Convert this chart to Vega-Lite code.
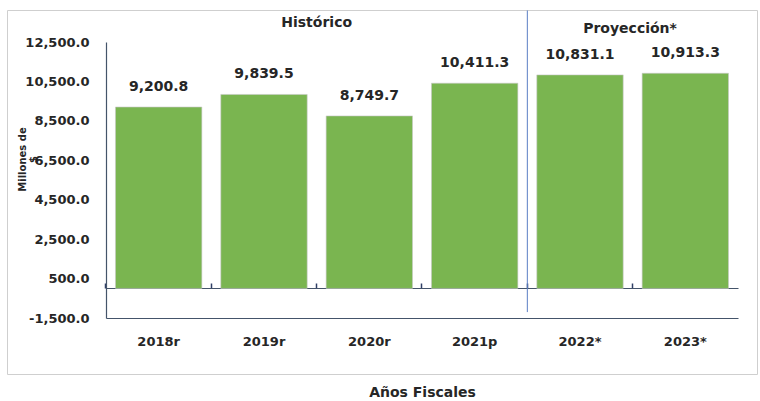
{
  "$schema": "https://vega.github.io/schema/vega-lite/v6.json",
  "width": 750,
  "height": 364,
  "autosize": {"type": "none"},
  "padding": {"left": 7, "top": 10, "right": 3, "bottom": 27},
  "config": {
    "font": "DejaVu Sans",
    "view": {"stroke": "#cfcfcf", "strokeWidth": 1},
    "locale": {
      "number": {"decimal": ".", "thousands": ",", "grouping": [3], "currency": ["$", ""], "minus": "-"}
    }
  },
  "data": {
    "values": [
      {"anio": "2018r", "valor": 9200.8},
      {"anio": "2019r", "valor": 9839.5},
      {"anio": "2020r", "valor": 8749.7},
      {"anio": "2021p", "valor": 10411.3},
      {"anio": "2022*", "valor": 10831.1},
      {"anio": "2023*", "valor": 10913.3}
    ]
  },
  "resolve": {"axis": {"x": "independent"}},
  "layer": [
    {
      "mark": {"type": "bar", "color": "#7AB550", "stroke": "#c8c8c8", "strokeWidth": 0.6},
      "encoding": {
        "x": {
          "field": "anio",
          "type": "nominal",
          "sort": null,
          "scale": {
            "domain": ["2018r", "2019r", "2020r", "2021p", "2022*", "2023*"],
            "range": [99, 731],
            "paddingInner": 0.18,
            "paddingOuter": 0.09
          },
          "axis": {
            "orient": "bottom",
            "offset": -56,
            "ticks": false,
            "grid": false,
            "domainColor": "#44546a",
            "domainWidth": 1.2,
            "labelAngle": 0,
            "labelFont": "DejaVu Sans",
            "labelFontSize": 13,
            "labelFontWeight": "bold",
            "labelColor": "#262626",
            "labelPadding": 17,
            "title": "Años Fiscales",
            "titleFont": "DejaVu Sans",
            "titleFontSize": 14,
            "titleFontWeight": "bold",
            "titleColor": "#262626",
            "titleBaseline": "middle",
            "titleY": 74
          }
        },
        "y": {
          "field": "valor",
          "type": "quantitative",
          "scale": {"domain": [-1500, 12500], "range": [308, 32], "nice": false, "zero": false},
          "axis": {
            "orient": "left",
            "offset": -99,
            "values": [-1500, 500, 2500, 4500, 6500, 8500, 10500, 12500],
            "format": ",.1f",
            "ticks": false,
            "grid": false,
            "domainColor": "#44546a",
            "domainWidth": 1.2,
            "labelFont": "DejaVu Sans",
            "labelFontSize": 13,
            "labelFontWeight": "bold",
            "labelColor": "#262626",
            "labelPadding": 17,
            "title": ["Millones de", "$"],
            "titleFont": "DejaVu Sans",
            "titleFontSize": 10,
            "titleFontWeight": "bold",
            "titleColor": "#262626",
            "titleAngle": -90,
            "titleAlign": "center",
            "titleBaseline": "top",
            "titleLineHeight": 11,
            "titleX": -89,
            "titleY": 149
          }
        },
        "y2": {"datum": 0}
      }
    },
    {
      "mark": {"type": "text", "font": "DejaVu Sans", "fontSize": 14, "fontWeight": "bold", "color": "#262626", "baseline": "middle", "dy": -20},
      "encoding": {
        "x": {
          "field": "anio",
          "type": "nominal",
          "sort": null,
          "axis": {
            "orient": "bottom",
            "offset": -86,
            "labels": false,
            "title": null,
            "grid": false,
            "domainColor": "#44546a",
            "domainWidth": 1.2,
            "ticks": true,
            "tickColor": "#2f3f66",
            "tickWidth": 1.5,
            "tickSize": -5,
            "bandPosition": -0.1098
          }
        },
        "y": {"field": "valor", "type": "quantitative"},
        "text": {"field": "valor", "type": "quantitative", "format": ",.1f"}
      }
    },
    {
      "data": {"values": [{"separador": "Histórico | Proyección"}]},
      "mark": {"type": "rule", "color": "#5b7fc4", "strokeWidth": 1},
      "encoding": {
        "x": {"datum": "2022*", "bandPosition": -0.1098, "axis": null},
        "y": {"datum": 14100},
        "y2": {"datum": -1200}
      }
    },
    {
      "data": {"values": [{"seccion": "Histórico"}]},
      "mark": {"type": "text", "font": "DejaVu Sans", "fontSize": 14, "fontWeight": "bold", "color": "#262626", "baseline": "middle"},
      "encoding": {
        "x": {"datum": "2020r", "bandPosition": -0.1098, "axis": null},
        "y": {"datum": 13450},
        "text": {"field": "seccion", "type": "nominal"}
      }
    },
    {
      "data": {"values": [{"seccion": "Proyección*"}]},
      "mark": {"type": "text", "font": "DejaVu Sans", "fontSize": 14, "fontWeight": "bold", "color": "#262626", "baseline": "middle"},
      "encoding": {
        "x": {"datum": "2023*", "bandPosition": -0.14, "axis": null},
        "y": {"datum": 13160},
        "text": {"field": "seccion", "type": "nominal"}
      }
    }
  ]
}
